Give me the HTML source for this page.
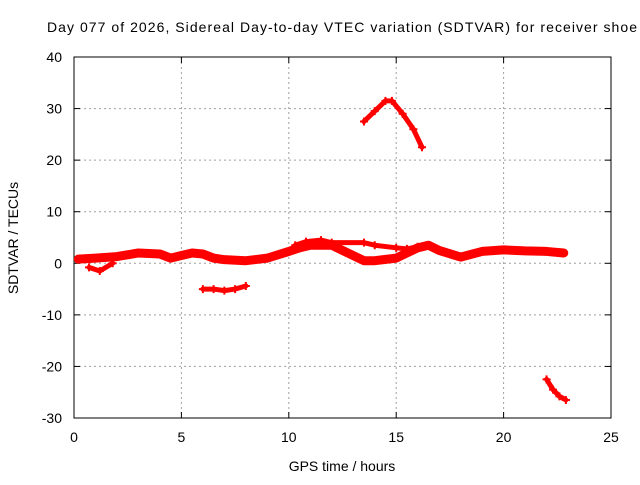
<!DOCTYPE html>
<html><head><meta charset="utf-8"><style>
body{margin:0;background:#fff}
svg text{font-family:"Liberation Sans",sans-serif;font-size:14px;fill:#000}
</style></head><body>
<svg width="640" height="480">
<rect width="640" height="480" fill="#fff"/>
<g id="grid"></g>
<g id="axes"></g>
<g id="series"></g>
<text x="47" y="32" text-anchor="start" textLength="590">Day 077 of 2026, Sidereal Day-to-day VTEC variation (SDTVAR) for receiver shoe</text>
<text x="342" y="471" text-anchor="middle">GPS time / hours</text>
<text x="18" y="238" text-anchor="middle" transform="rotate(-90 18 238)">SDTVAR / TECUs</text>
</svg>
<script>
const xTicks=[0,5,10,15,20,25];
const yTicks=[-30,-20,-10,0,10,20,30,40];
const mainH=[0.2,1,2,3,4,4.5,5,5.5,6,6.5,7,8,9,10,10.5,11,12,12.5,13,13.5,14,15,15.5,16,16.5,17,18,19,20,21,22,22.8];
const mainV=[0.8,1,1.3,2,1.8,1,1.5,2,1.8,1,0.7,0.5,1,2.3,3,3.5,3.5,2.5,1.5,0.5,0.5,1,2,3,3.5,2.5,1.2,2.3,2.6,2.4,2.3,2];
const upH=[10.3,10.8,11.5,12,13.5,14,15,15.5,16];
const upV=[3.5,4.2,4.5,4,4,3.5,3,2.8,3.2];
const dipH=[0.7,1.2,1.8];
const dipV=[-0.8,-1.5,0];
const lowH=[6,6.5,7,7.5,8];
const lowV=[-5,-5,-5.3,-5,-4.4];
const peakH=[13.5,14,14.5,14.8,15.3,15.8,16.2];
const peakV=[27.5,29.5,31.5,31.5,29,26,22.5];
const tailH=[22,22.3,22.6,22.9];
const tailV=[-22.5,-24.5,-25.8,-26.5];
const X=h=>74+h*(611-74)/25;
const Y=v=>418-(v+30)*(418-57)/70;
const NS="http://www.w3.org/2000/svg";
function mk(t,p,a){const e=document.createElementNS(NS,t);for(const k in a)e.setAttribute(k,a[k]);p.appendChild(e);return e;}
const grid=document.getElementById('grid'),axes=document.getElementById('axes'),ser=document.getElementById('series');
xTicks.forEach(t=>{const x=X(t);
 if(t>0&&t<25){const l=mk('line',grid,{x1:x,x2:x,y1:57,y2:418,stroke:'#a0a0a0','stroke-dasharray':'2,3'});}
 const s=mk('text',axes,{x:x,y:442,'text-anchor':'middle'});s.textContent=t;
 
 mk('line',axes,{x1:x,x2:x,y1:418,y2:412,stroke:'#000'});mk('line',axes,{x1:x,x2:x,y1:57,y2:63,stroke:'#000'});
});
yTicks.forEach(t=>{const y=Y(t);
 if(t>-30&&t<40){const l=mk('line',grid,{x1:74,x2:611,y1:y,y2:y,stroke:'#a0a0a0','stroke-dasharray':'2,3'});}
 const s=mk('text',axes,{x:62,y:y+5,'text-anchor':'end'});s.textContent=t;
 
 mk('line',axes,{x1:74,x2:80,y1:y,y2:y,stroke:'#000'});mk('line',axes,{x1:611,x2:605,y1:y,y2:y,stroke:'#000'});
});
const fr=mk('rect',axes,{x:74,y:57,width:537,height:361,fill:'none',stroke:'#000'});

function draw(H,V,name,w){
 const pts=H.map((h,i)=>X(h)+','+Y(V[i])).join(' ');
 const p=mk('polyline',ser,{points:pts,fill:'none',stroke:'#f00','stroke-width':w,'stroke-linejoin':'round','stroke-linecap':'round'});
 
 H.forEach((h,i)=>{const x=X(h),y=Y(V[i]);
  const m=mk('path',ser,{d:`M${x-4},${y}h8M${x},${y-4}v8`,stroke:'#f00','stroke-width':2});
  });
}
draw(mainH,mainV,'main-band',9);
draw(upH,upV,'upper-track',5);
draw(dipH,dipV,'dip-track',5);
draw(lowH,lowV,'low-segment',5);
draw(peakH,peakV,'peak-segment',5);
draw(tailH,tailV,'tail-segment',5);
</script>
</body></html>
